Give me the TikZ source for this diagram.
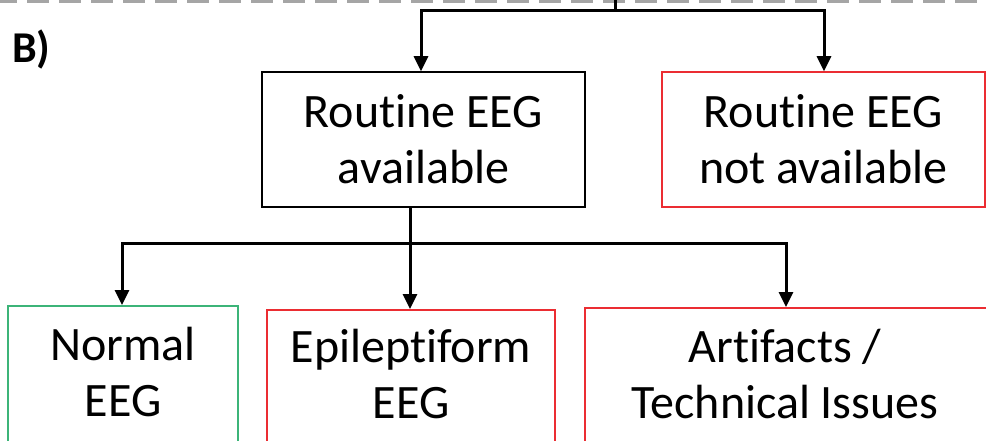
\documentclass[tikz,border=0pt]{standalone}
\usepackage{fontspec}
\setmainfont{Carlito}[Ligatures={NoCommon}]
\usetikzlibrary{arrows.meta}
\definecolor{boxred}{RGB}{235,45,50}
\definecolor{boxgreen}{RGB}{60,180,120}
\definecolor{dashgray}{RGB}{165,165,165}
\begin{document}
\begin{tikzpicture}[x=1pt,y=-1pt,
  box/.style={draw, line width=1.5pt, rectangle, inner sep=0pt},
  txt/.style={align=center, font=\fontsize{48}{56}\selectfont, inner sep=0pt},
  conn/.style={line width=3pt, -{Triangle[width=14pt,length=15pt]}},
  plain/.style={line width=3pt}]
\useasboundingbox (0,0) rectangle (986,441);
\clip (0,0) rectangle (986,441);
% dashed separator
\coordinate (dl) at (-5,2);
\coordinate (dr) at (995,2);
\draw[dashgray, line width=3pt, dash pattern=on 22pt off 10pt] (dl) -- (dr);
% label
\node[anchor=west, font=\fontsize{44}{50}\selectfont\bfseries, inner sep=0pt] (lbl) at (12,50) {B)};
% top boxes
\node[box, minimum width=323pt, minimum height=135pt, txt] (avail) at (423.5,139.5) {Routine EEG\\available};
\node[box, draw=boxred, minimum width=323pt, minimum height=135pt, txt] (navail) at (823.5,139.5) {Routine EEG\\not available};
% bottom boxes
\node[box, draw=boxgreen, minimum width=230pt, minimum height=200pt, anchor=north] (normal) at (123,305) {};
\node[box, draw=boxred, minimum width=288pt, minimum height=200pt, anchor=north] (epi) at (411,309) {};
\node[box, draw=boxred, minimum width=440pt, minimum height=200pt, anchor=north west] (art) at (584,307) {};
\node[txt] (normalt) at (123,372) {Normal\\EEG};
\node[txt] (epit) at (411,374) {Epileptiform\\EEG};
\node[txt] (artt) at (785,374) {Artifacts /\\Technical Issues};
% top connectors
\coordinate (src) at (615,0);
\coordinate (split) at (615,11);
\draw[plain] (src) -- (split);
\draw[conn] (split) -| (421,0 |- avail.north);
\draw[conn] (split) -| (824,0 |- navail.north);
% lower connectors
\coordinate (lsrc) at (410,0 |- avail.south);
\coordinate (lsplit) at (410,243);
\draw[plain] (lsrc) -- (lsplit);
\draw[conn] (lsplit) -| (122,0 |- normal.north);
\draw[conn] (lsplit) -- (410,0 |- epi.north);
\draw[conn] (lsplit) -| (786,0 |- art.north);
\end{tikzpicture}
\end{document}
